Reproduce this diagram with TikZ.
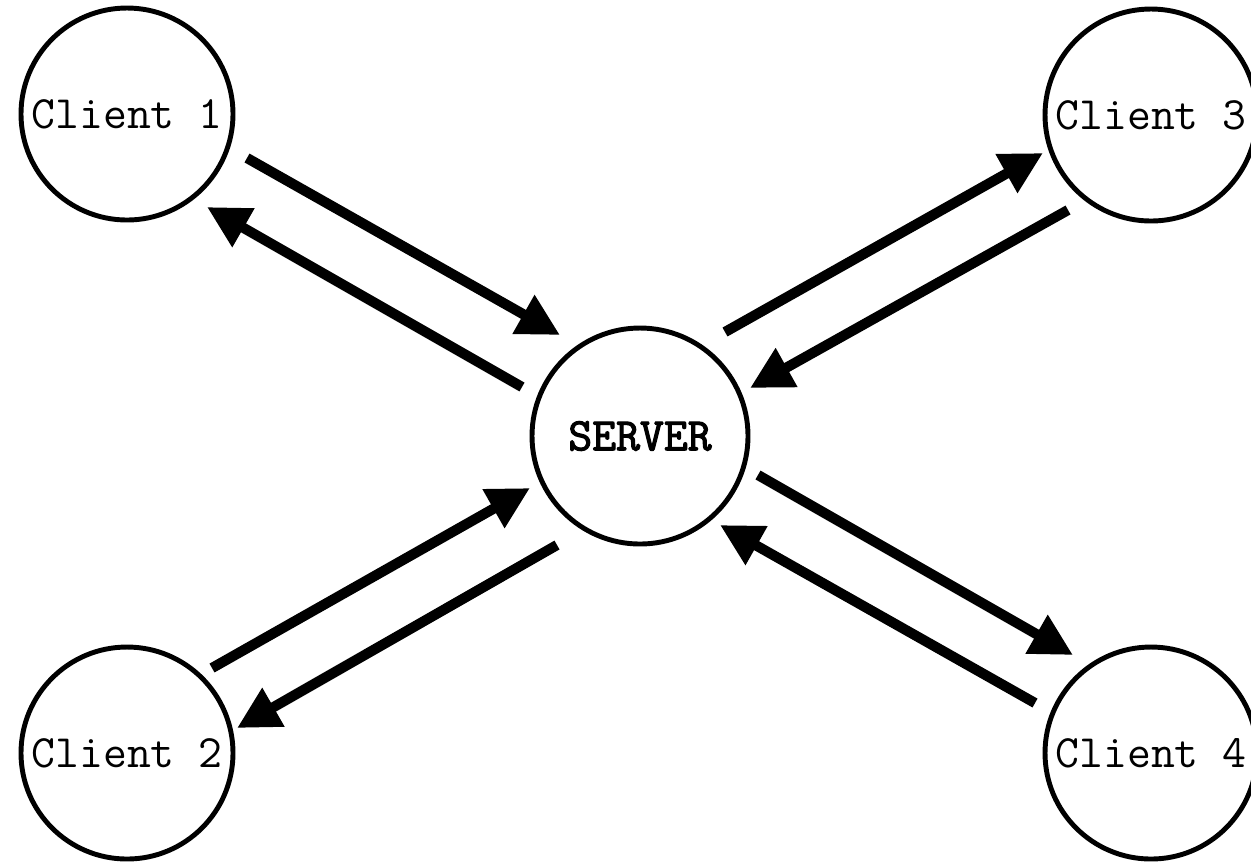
\documentclass[tikz,border=0pt]{standalone}
\usepackage{fontspec}
\newfontfamily\srvfont{Latin Modern Mono}[FakeBold=2.5]
\usepackage{tikz}
\usetikzlibrary{calc, arrows.meta}

\begin{document}
\begin{tikzpicture}[
    cl/.style = {draw, circle, line width = 1.4, minimum size = 2.12cm, inner sep = 0,
                 font = \ttfamily\fontsize{13.2}{14}\selectfont},
    sv/.style = {cl, minimum size = 2.16cm, font = \srvfont\fontsize{13.2}{14}\selectfont},
    a0/.style = {line width = 2.9, -{Triangle[length = 0.42cm, width = 0.42cm]}}
]

\useasboundingbox (0,0) rectangle (12.51,-8.62);

\node[cl] (c1) at (1.27,-1.14) {Client 1};
\node[cl] (c3) at (11.51,-1.15) {Client 3};
\node[cl] (c2) at (1.27,-7.53) {Client 2};
\node[cl] (c4) at (11.51,-7.53) {Client 4};
\node[sv] (srv) at (6.40,-4.36) {SERVER};

% upper left
\draw[a0] ($(c1)+(1.20,-0.44)$) -- ($(srv)+(-0.80,1.01)$);
\draw[a0] ($(srv)+(-1.18,0.49)$) -- ($(c1)+(0.80,-0.93)$);

% upper right
\draw[a0] ($(srv)+(0.85,1.04)$) -- ($(c3)+(-1.08,-0.38)$);
\draw[a0] ($(c3)+(-0.83,-0.95)$) -- ($(srv)+(1.10,0.48)$);

% lower left
\draw[a0] ($(c2)+(0.85,0.85)$) -- ($(srv)+(-1.10,-0.52)$);
\draw[a0] ($(srv)+(-0.83,-1.09)$) -- ($(c2)+(1.10,0.25)$);

% lower right
\draw[a0] ($(srv)+(1.18,-0.39)$) -- ($(c4)+(-0.78,0.98)$);
\draw[a0] ($(c4)+(-1.16,0.50)$) -- ($(srv)+(0.80,-0.89)$);

\end{tikzpicture}
\end{document}
